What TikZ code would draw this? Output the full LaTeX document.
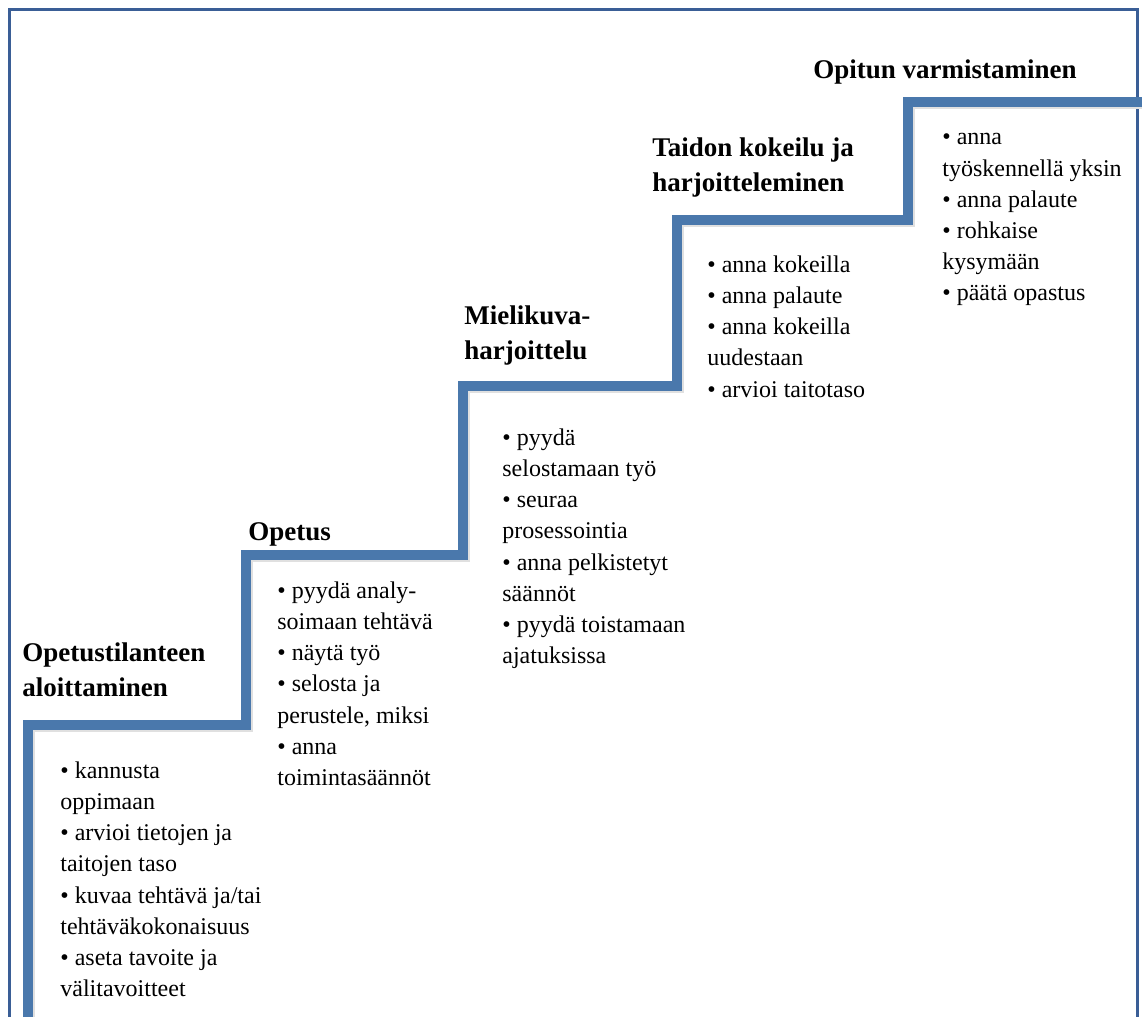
\documentclass[tikz,border=0pt]{standalone}
\usepackage{fontspec}
\setmainfont{Liberation Serif}
\definecolor{stair}{HTML}{4A78AC}
\definecolor{frame}{HTML}{3A5E96}

\begin{document}
\begin{tikzpicture}[x=0.5pt, y=-0.5pt,
    head/.style = {anchor=north west, inner sep=0pt, align=left, yshift=12.25pt, execute at begin node=\strut, font=\fontsize{13.5}{17.5}\selectfont\bfseries},
    list/.style = {anchor=north west, inner sep=0pt, align=left, yshift=10.92pt, execute at begin node=\strut, font=\fontsize{12}{15.6}\selectfont}]
    \useasboundingbox (0,0) rectangle (1142,1017);
    % frame and stairs
    \draw[frame, line width=1.5pt] (9,1017) -- (9,9) -- (1137,9) -- (1137,1017);
    \draw[black!12, line width=5pt] (30,1017) -- (30,727) -- (248,727) -- (248,557) -- (465,557) -- (465,388) -- (679,388) -- (679,222) -- (910,222) -- (910,104) -- (1142,104);
    \draw[stair, line width=5pt] (28,1017) -- (28,725) -- (246,725) -- (246,555) -- (463,555) -- (463,386) -- (677,386) -- (677,220) -- (908,220) -- (908,102) -- (1142,102);
    % steps
    \node[head] (h1) at (22,667) {Opetustilanteen\\aloittaminen};
    \node[list] (l1) at (60,783) {• kannusta\\oppimaan\\• arvioi tietojen ja\\taitojen taso\\• kuvaa tehtävä ja/tai\\tehtäväkokonaisuus\\• aseta tavoite ja\\välitavoitteet};
    \node[head] (h2) at (248,540) {Opetus};
    \node[list] (l2) at (277,603) {• pyydä analy-\\soimaan tehtävä\\• näytä työ\\• selosta ja\\perustele, miksi\\• anna\\toimintasäännöt};
    \node[head] (h3) at (464,330) {Mielikuva-\\harjoittelu};
    \node[list] (l3) at (502,450) {• pyydä\\selostamaan työ\\• seuraa\\prosessointia\\• anna pelkistetyt\\säännöt\\• pyydä toistamaan\\ajatuksissa};
    \node[head] (h4) at (652,162) {Taidon kokeilu ja\\harjoitteleminen};
    \node[list] (l4) at (707,277) {• anna kokeilla\\• anna palaute\\• anna kokeilla\\uudestaan\\• arvioi taitotaso};
    \node[head] (h5) at (813,78) {Opitun varmistaminen};
    \node[list] (l5) at (942,155) {• anna\\työskennellä yksin\\• anna palaute\\• rohkaise\\kysymään\\• päätä opastus};
\end{tikzpicture}
\end{document}
